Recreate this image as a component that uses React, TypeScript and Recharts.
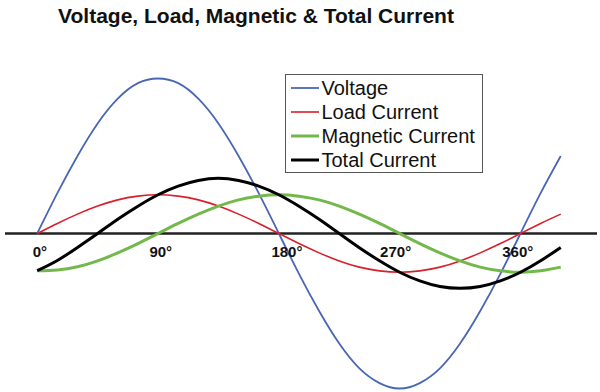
import React from 'react';
import { LineChart, Line, XAxis, YAxis, ReferenceLine, ReferenceDot, Legend } from 'recharts';

// phase angle in degrees, sampled every 15 deg
const angles = [0, 15, 30, 45, 60, 75, 90, 105, 120, 135, 150, 165, 180, 195, 210, 225, 240, 255, 270, 285, 300, 315, 330, 345, 360, 375, 390];

// values (voltage peak = 100)
const voltage = [0, 26, 50, 71, 87, 97, 100, 97, 87, 71, 50, 26, 0, -26, -50, -71, -87, -96.5, -100, -96.5, -87, -71, -50, -26, 0, 26, 50];
const loadCurrent = [0, 6.5, 12.5, 17.7, 21.7, 24.1, 25, 24.1, 21.7, 17.7, 12.5, 6.5, 0, -6.5, -12.5, -17.7, -21.7, -24.1, -25, -24.1, -21.7, -17.7, -12.5, -6.5, 0, 6.5, 12.5];
const magneticCurrent = [-24, -23.5, -21.5, -17.7, -12.5, -6.5, 0, 6.5, 12.5, 17.7, 21.7, 24.1, 25, 24.1, 21.7, 17.7, 12.5, 6.5, 0, -6.5, -12.5, -17.7, -21.7, -24.1, -25, -24.1, -21.7];
const totalCurrent = [-24, -17.4, -9, 0, 9.2, 17.6, 25, 30.6, 34.2, 35.6, 34.2, 30.6, 25, 17.6, 9.2, 0, -9.2, -17.6, -25, -30.6, -34.2, -35.4, -34.2, -30.6, -25, -17.6, -9];

const degreeLabels = ['0°', '90°', '180°', '270°', '360°'];
const degreeLabelAt = [2, 92, 186, 267, 358];

const seriesNames = ['Voltage', 'Load Current', 'Magnetic Current', 'Total Current'];
const seriesColors = ['#4a67b5', '#d8202a', '#72b84a', '#000000'];
const seriesWidths = [1.8, 1.6, 3, 3];

const data = angles.map((a, i) => ({
  angle: a,
  Voltage: voltage[i],
  'Load Current': loadCurrent[i],
  'Magnetic Current': magneticCurrent[i],
  'Total Current': totalCurrent[i],
}));

const FONT = "'Liberation Sans', Arial, Helvetica, sans-serif";

const LegendBox = ({ payload }: any) => {
  const items = seriesNames.map((n) => (payload || []).find((p: any) => p.value === n)).filter(Boolean);
  return (
    <div style={{ position: 'relative', width: 198, height: 99, border: '1.5px solid #555', boxSizing: 'border-box', background: '#fff' }}>
      {items.map((p: any, i: number) => (
        <div key={p.value} style={{ position: 'absolute', left: 4.5, top: 0.5 + i * 24.3, height: 24, display: 'flex', alignItems: 'center' }}>
          <svg width={28} height={4} style={{ display: 'block' }}>
            <line x1={0} x2={28} y1={2} y2={2} stroke={p.color} strokeWidth={seriesWidths[seriesNames.indexOf(p.value)]} />
          </svg>
          <span style={{ marginLeft: 3, fontSize: 20, lineHeight: '24px', fontFamily: FONT, color: '#111', whiteSpace: 'nowrap' }}>{p.value}</span>
        </div>
      ))}
    </div>
  );
};

export default function App() {
  return (
    <div style={{ position: 'absolute', left: 0, top: 0, width: 600, height: 392, background: '#fff' }}>
      <div style={{ position: 'absolute', left: 0, top: 5, width: 512, textAlign: 'center', fontFamily: FONT, fontWeight: 'bold', fontSize: 21, lineHeight: '21px', color: '#111', whiteSpace: 'nowrap' }}>
        Voltage, Load, Magnetic &amp; Total Current
      </div>
      <LineChart width={600} height={392} data={data} margin={{ top: 63, right: 3, bottom: 0.4, left: 5 }}>
        <XAxis dataKey="angle" type="number" domain={[-24, 417]} allowDataOverflow hide />
        <YAxis type="number" domain={[-102, 110]} allowDataOverflow hide />
        <ReferenceLine y={0} stroke="#222" strokeWidth={2.5} />
        {degreeLabels.map((t, i) => (
          <ReferenceDot
            key={t}
            x={degreeLabelAt[i]}
            y={0}
            r={0}
            fill="none"
            stroke="none"
            label={{ value: t, position: 'bottom', offset: 12.8, fill: '#111', fontSize: 15, fontWeight: 'bold', fontFamily: FONT }}
          />
        ))}
        {seriesNames.map((n, i) => (
          <Line
            key={n}
            type="natural"
            dataKey={n}
            name={n}
            stroke={seriesColors[i]}
            strokeWidth={seriesWidths[i]}
            dot={false}
            activeDot={false}
            isAnimationActive={false}
          />
        ))}
        <Legend
          layout="horizontal"
          verticalAlign="middle"
          align="center"
          content={<LegendBox />}
          wrapperStyle={{ left: 285, top: 74, width: 198, height: 99 }}
        />
      </LineChart>
    </div>
  );
}
